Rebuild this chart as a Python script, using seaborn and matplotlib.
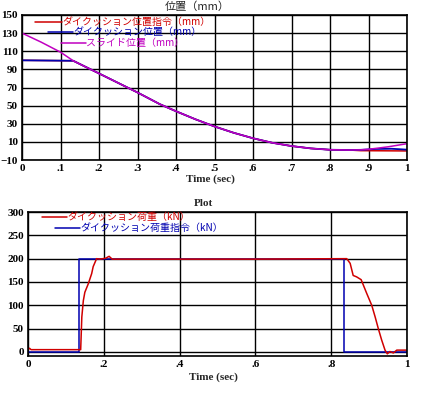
import matplotlib
matplotlib.use("Agg")
import matplotlib.pyplot as plt
import seaborn as sns
from matplotlib.lines import Line2D

# ---------------- data ----------------
# Top chart: positions (mm)
t_slide = [0, 0.05, 0.1, 0.133, 0.2, 0.25, 0.3, 0.358, 0.4, 0.45, 0.5, 0.55,
           0.6, 0.65, 0.7, 0.75, 0.8, 0.85, 0.88, 0.9, 0.95, 1.0]
slide_pos = [130, 120, 109, 99.5, 85.5, 75, 64.5, 51.6, 43.8, 35, 27, 20,
             14, 9, 5.4, 2.8, 1.3, 1.0, 1.2, 1.8, 4.5, 8.0]

t_cush = [0, 0.133, 0.2, 0.25, 0.3, 0.358, 0.4, 0.45, 0.5, 0.55, 0.6, 0.65,
          0.7, 0.75, 0.8, 0.85, 0.88, 0.92, 0.96, 1.0]
cush_pos = [100, 99.5, 85.5, 75, 64.5, 51.6, 43.8, 35, 27, 20, 14, 9,
            5.4, 2.8, 1.3, 1.0, 1.2, 2.2, 2.4, 1.4]

t_cmd = [0, 0.133, 0.2, 0.25, 0.3, 0.358, 0.4, 0.45, 0.5, 0.55, 0.6, 0.65,
         0.7, 0.75, 0.8, 0.85, 0.88, 1.0]
cmd_pos = [100, 99.5, 85.5, 75, 64.5, 51.6, 43.8, 35, 27, 20, 14, 9,
           5.4, 2.8, 1.3, 1.0, 0.3, 0.0]

# Bottom chart: loads (kN)
t_load_cmd = [0, 0.1354, 0.1354, 0.834, 0.834, 1.0]
load_cmd = [0, 0, 200, 200, 0, 0]

t_load = [0, 0.004, 0.008, 0.139, 0.142, 0.146, 0.150, 0.159, 0.168, 0.172,
          0.181, 0.19, 0.205, 0.214, 0.222, 0.3, 0.6, 0.841, 0.850, 0.858,
          0.867, 0.879, 0.885, 0.894, 0.907, 0.916, 0.924, 0.933, 0.942,
          0.948, 0.955, 0.964, 0.973, 1.0]
load = [5, 8, 5, 5, 75, 110, 128, 146, 168, 183,
        200, 199, 201, 205, 199, 199, 199, 200, 190, 164,
        161, 155, 143, 125, 100, 75, 51, 26, 4,
        -4, 1, -2, 4, 4]

top_xticks = [0, 0.1, 0.2, 0.3, 0.4, 0.5, 0.6, 0.7, 0.8, 0.9, 1.0]
top_xlabels = ["0", ".1", ".2", ".3", ".4", ".5", ".6", ".7", ".8", ".9", "1"]
top_yticks = [-10, 10, 30, 50, 70, 90, 110, 130, 150]
bot_xticks = [0, 0.2, 0.4, 0.6, 0.8, 1.0]
bot_xlabels = ["0", ".2", ".4", ".6", ".8", "1"]
bot_yticks = [0, 50, 100, 150, 200, 250, 300]

top_title = "位置（mm）"
bot_title = "Plot"
xlabel = "Time (sec)"
top_names = ["ダイクッション位置指令（mm）", "ダイクッション位置（mm）", "スライド位置（mm）"]
bot_names = ["ダイクッション荷重（kN）", "ダイクッション荷重指令（kN）"]

RED = "#d00000"
BLUE = "#0000b0"
MAG = "#c000c0"

# ---------------- style ----------------
sns.set_style("white")
plt.rcParams["font.family"] = ["Liberation Serif", "Noto Sans CJK JP", "DejaVu Sans"]
CJK = ["Noto Sans CJK JP", "DejaVu Sans"]

W, H = 429, 393
fig = plt.figure(figsize=(W / 100, H / 100), dpi=100)


def px_axes(x0, y0, x1, y1):
    return fig.add_axes([x0 / W, (H - y1) / H, (x1 - x0) / W, (y1 - y0) / H])


ax1 = px_axes(22, 15, 407, 160)
ax2 = px_axes(28, 212, 407, 356)

# top chart
sns.lineplot(x=t_cmd, y=cmd_pos, ax=ax1, color=RED, lw=1.1, estimator=None, sort=False)
sns.lineplot(x=t_cush, y=cush_pos, ax=ax1, color=BLUE, lw=1.3, estimator=None, sort=False)
sns.lineplot(x=t_slide, y=slide_pos, ax=ax1, color=MAG, lw=1.1, estimator=None, sort=False)
ax1.set_xlim(0, 1)
ax1.set_ylim(-10, 150)
ax1.set_xticks(top_xticks)
ax1.set_xticklabels(top_xlabels)
ax1.set_yticks(top_yticks)

# bottom chart
sns.lineplot(x=t_load_cmd, y=load_cmd, ax=ax2, color=BLUE, lw=1.1, estimator=None, sort=False)
sns.lineplot(x=t_load, y=load, ax=ax2, color=RED, lw=1.1, estimator=None, sort=False)
ax2.set_xlim(0, 1)
ax2.set_ylim(-8.6, 300)
ax2.set_xticks(bot_xticks)
ax2.set_xticklabels(bot_xlabels)
ax2.set_yticks(bot_yticks)

for ax in (ax1, ax2):
    ax.grid(True, color="black", linewidth=1.0)
    ax.set_axisbelow(True)
    for s in ax.spines.values():
        s.set_visible(True)
        s.set_color("black")
        s.set_linewidth(1.2)
    ax.tick_params(length=0, labelsize=8, pad=3, colors="black")
    ax.set_xlabel("")
    ax.set_ylabel("")
    for lab in ax.get_xticklabels() + ax.get_yticklabels():
        lab.set_fontweight("bold")


def ftext(x, y, s, **kw):
    fig.text(x / W, 1 - y / H, s, **kw)


def fline(x0, x1, y, color):
    fig.add_artist(Line2D([x0 / W, x1 / W], [1 - y / H, 1 - y / H],
                          transform=fig.transFigure, color=color, lw=1.1))


# titles and labels
ftext(197, 7, top_title, ha="center", va="center", fontsize=8, family=CJK)
ftext(203, 203, bot_title, ha="center", va="center", fontsize=8, fontweight="bold")
ftext(210, 179, xlabel, ha="center", va="center", fontsize=8, fontweight="bold")
ftext(213, 377, xlabel, ha="center", va="center", fontsize=8, fontweight="bold")

# legends (staggered, no frame)
for (x0, x1, y, c, name) in [(35, 62, 22, RED, top_names[0]),
                             (48, 73, 32, BLUE, top_names[1]),
                             (61, 86, 43, MAG, top_names[2]),
                             (42, 67, 217, RED, bot_names[0]),
                             (55, 80, 228, BLUE, bot_names[1])]:
    fline(x0, x1, y, c)
    ftext(x1, y, name, ha="left", va="center", fontsize=7.2, color=c, family=CJK,
          style="italic")

fig.savefig("out.png", dpi=100)
